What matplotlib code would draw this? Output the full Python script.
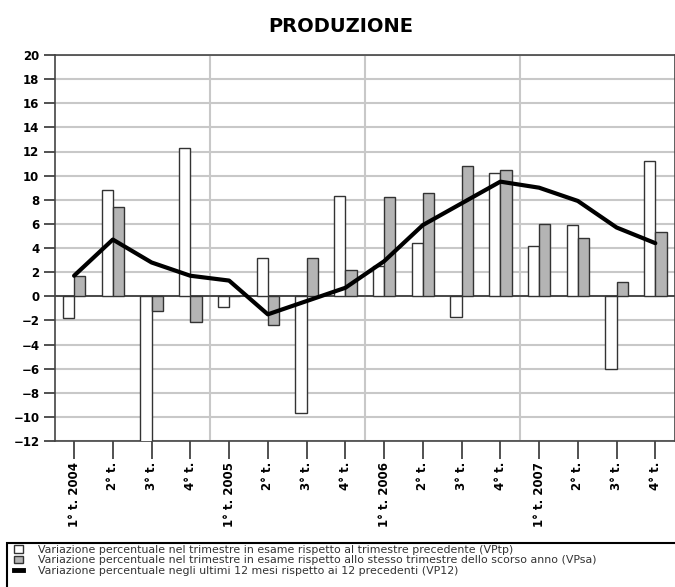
import matplotlib
matplotlib.use("Agg")
import matplotlib.pyplot as plt
from matplotlib.patches import Rectangle, Patch
from matplotlib.lines import Line2D
import numpy as np

# quarterly data
trimestri = ["1° t. 2004", "2° t.", "3° t.", "4° t.",
             "1° t. 2005", "2° t.", "3° t.", "4° t.",
             "1° t. 2006", "2° t.", "3° t.", "4° t.",
             "1° t. 2007", "2° t.", "3° t.", "4° t."]
vptp = [-1.8, 8.8, -13.5, 12.3, -0.9, 3.2, -9.7, 8.3,
        2.5, 4.4, -1.7, 10.2, 4.2, 5.9, -6.0, 11.2]
vpsa = [1.7, 7.4, -1.2, -2.1, 0.0, -2.4, 3.2, 2.2,
        8.2, 8.6, 10.8, 10.5, 6.0, 4.8, 1.2, 5.3]
vp12 = [1.7, 4.7, 2.8, 1.7, 1.3, -1.5, -0.4, 0.7,
        2.9, 5.9, 7.7, 9.5, 9.0, 7.9, 5.7, 4.4]

labels = ["Variazione percentuale nel trimestre in esame rispetto al trimestre precedente (VPtp)",
          "Variazione percentuale nel trimestre in esame rispetto allo stesso trimestre dello scorso anno (VPsa)",
          "Variazione percentuale negli ultimi 12 mesi rispetto ai 12 precedenti (VP12)"]

W, H = 675, 587
fig = plt.figure(figsize=(W / 100, H / 100), dpi=100)
ax = fig.add_axes([54.7 / W, 1 - 441 / H, 620 / W, 386 / H])

x = np.arange(len(trimestri))
bw = 0.29
grey = "#b4b4b4"
edge = "#333333"

ax.bar(x - bw / 2, vptp, bw, color="white", edgecolor=edge, linewidth=1, zorder=3)
ax.bar(x + bw / 2, vpsa, bw, color=grey, edgecolor=edge, linewidth=1, zorder=3)
ax.plot(x, vp12, color="black", linewidth=3, solid_joinstyle="round",
        solid_capstyle="round", zorder=4)

ax.set_xlim(-0.5, len(trimestri) - 0.5)
ax.set_ylim(-12, 20)
ax.set_yticks(range(-12, 21, 2))
ax.set_xticks(x)
ax.set_xticklabels(trimestri, rotation=90, fontweight="bold", fontsize=8.5)
for t in ax.get_yticklabels():
    t.set_fontweight("bold")
    t.set_fontsize(8.5)

ax.tick_params(axis="y", length=8, width=1.2, color="#333333", pad=3)
ax.tick_params(axis="x", length=13, width=1.2, color="#333333", pad=2)

# grid: horizontal every 2, vertical only between years
ax.grid(axis="y", color="#c8c8c8", linewidth=1.5, zorder=0)
for b in [3.5, 7.5, 11.5]:
    ax.axvline(b, color="#c8c8c8", linewidth=1.5, zorder=0)
ax.axhline(0, color="#333333", linewidth=1.2, zorder=2)

for s in ax.spines.values():
    s.set_color("#444444")
    s.set_linewidth(1.2)

fig.text(341 / W, 1 - 27 / H, "PRODUZIONE", ha="center", va="center",
         fontsize=14, fontweight="bold")

# legend box
fig.patches.append(Rectangle((7 / W, -0.05), 1.0, 1 - 543 / H + 0.05,
                             transform=fig.transFigure, fill=False,
                             edgecolor="black", linewidth=1.5))
handles = [Patch(facecolor="white", edgecolor=edge, linewidth=1),
           Patch(facecolor=grey, edgecolor=edge, linewidth=1),
           Line2D([], [], color="black", linewidth=3.5)]
fig.legend(handles, labels, loc="upper left", bbox_to_anchor=(7 / W, 1 - 538 / H),
           frameon=False, fontsize=7.9, handlelength=0.8, handleheight=0.7,
           handletextpad=1.4, labelspacing=0.03, borderpad=0.15,
           labelcolor="#333333")

fig.savefig("out.png", dpi=100)
